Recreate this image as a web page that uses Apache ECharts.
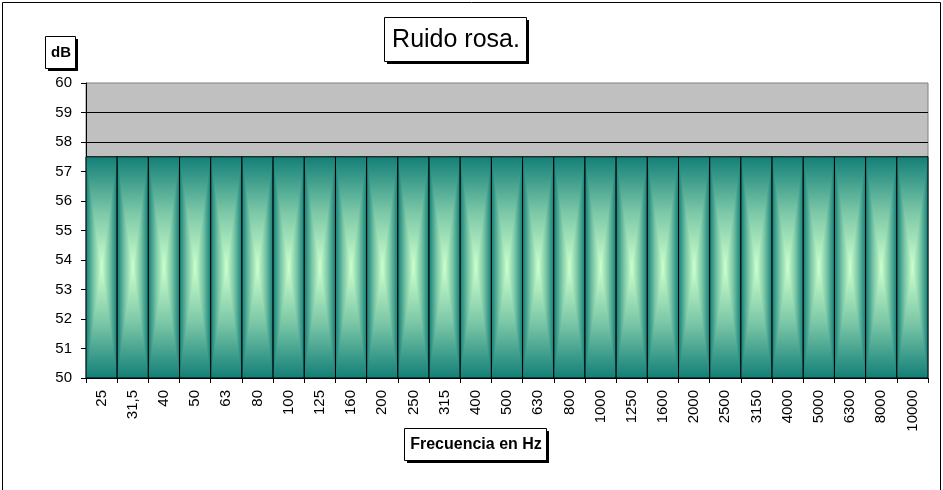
<!DOCTYPE html>
<html><head><meta charset="utf-8">
<script src="https://cdn.jsdelivr.net/npm/echarts@6/dist/echarts.min.js"></script>
<style>html,body{margin:0;padding:0;background:#fff}#c{width:943px;height:490px}</style>
</head><body><div id="c"></div>
<script>
const categories = ['25','31,5','40','50','63','80','100','125','160','200','250','315','400','500','630','800','1000','1250','1600','2000','2500','3150','4000','5000','6300','8000','10000'];
const values = [57.5,57.5,57.5,57.5,57.5,57.5,57.5,57.5,57.5,57.5,57.5,57.5,57.5,57.5,57.5,57.5,57.5,57.5,57.5,57.5,57.5,57.5,57.5,57.5,57.5,57.5,57.5];
const yTicks = {min: 50, max: 60, interval: 1};
const titleText = 'Ruido rosa.';
const yName = 'dB';
const xName = 'Frecuencia en Hz';

// gradient profile from bar edge (s=0) to bar centre (s=1)
const PROFILE = [[0, '#137f78'], [0.5, '#7bc7a7'], [1, '#ccffcc']];
const FONT = '"Liberation Sans", Arial, sans-serif';
const G = echarts.graphic;

const edgeToCenter = PROFILE.map(p => ({offset: p[0], color: p[1]}));
const centerToEdge = PROFILE.map(p => ({offset: 1 - p[0], color: p[1]})).reverse();
const horiz = PROFILE.map(p => ({offset: p[0] / 2, color: p[1]}))
  .concat(PROFILE.slice(0, -1).reverse().map(p => ({offset: 1 - p[0] / 2, color: p[1]})));

function renderItem(params, api) {
  const top = api.coord([api.value(0), api.value(1)]);
  const base = api.coord([api.value(0), yTicks.min]);
  const w = api.size([1, 0])[0];
  const C = top[0], L = C - w / 2, R = C + w / 2, T = top[1], B = base[1], M = (T + B) / 2;
  return {
    type: 'group',
    children: [
      { type: 'rect', shape: {x: L, y: T, width: w, height: B - T},
        style: {fill: new G.LinearGradient(0, 0, 1, 0, horiz)} },
      { type: 'polygon', shape: {points: [[L, T], [R, T], [C, M]]},
        style: {fill: new G.LinearGradient(0, 0, 0, 1, edgeToCenter)} },
      { type: 'polygon', shape: {points: [[L, B], [R, B], [C, M]]},
        style: {fill: new G.LinearGradient(0, 0, 0, 1, centerToEdge)} },
      { type: 'rect', shape: {x: L, y: T, width: w, height: B - T},
        style: {fill: 'none', stroke: '#000', lineWidth: 1} }
    ]
  };
}

function box(x, y, w, h, text, font) {
  return {
    type: 'group', left: x, top: y,
    children: [
      {type: 'rect', shape: {x: 3, y: 3, width: w, height: h}, style: {fill: '#000'}},
      {type: 'rect', shape: {x: 0.5, y: 0.5, width: w, height: h}, style: {fill: '#fff', stroke: '#000', lineWidth: 1}},
      {type: 'text', style: {text: text, x: w / 2 + 1, y: h / 2 + 1, align: 'center', verticalAlign: 'middle', font: font, fill: '#000'}}
    ]
  };
}

const chart = echarts.init(document.getElementById('c'), null, {renderer: 'canvas'});
chart.setOption({
  backgroundColor: '#fff',
  animation: false,
  grid: {left: 86, right: 15, top: 83, bottom: 112, show: true, backgroundColor: '#c0c0c0', borderColor: '#808080', borderWidth: 1},
  xAxis: {
    type: 'category', data: categories,
    axisLine: {lineStyle: {color: '#000', width: 1}},
    axisTick: {show: true, length: 5, lineStyle: {color: '#000'}},
    axisLabel: {rotate: 90, fontSize: 15, color: '#000', margin: 12, fontFamily: FONT, interval: 0},
    splitLine: {show: false}
  },
  yAxis: {
    type: 'value', min: yTicks.min, max: yTicks.max, interval: yTicks.interval,
    axisLine: {show: true, lineStyle: {color: '#000', width: 1}},
    axisTick: {show: true, length: 5, lineStyle: {color: '#000'}},
    axisLabel: {fontSize: 15, color: '#000', margin: 14, fontFamily: FONT},
    splitLine: {show: true, showMaxLine: false, showMinLine: false, lineStyle: {color: '#000', width: 1}}
  },
  series: [{
    type: 'custom', renderItem: renderItem,
    encode: {x: 0, y: 1},
    data: values.map((v, i) => [i, v])
  }],
  graphic: [
    {type: 'rect', left: 0, top: 0, shape: {x: 0.5, y: 0.5, width: 938, height: 488}, style: {fill: 'none', stroke: '#000', lineWidth: 1}, silent: true},
    box(384, 17, 142, 44, titleText, '25px ' + FONT),
    box(45, 36, 30, 32, yName, 'bold 15px ' + FONT),
    box(404, 428, 142, 32, xName, 'bold 16px ' + FONT)
  ]
});
</script>
</body></html>
